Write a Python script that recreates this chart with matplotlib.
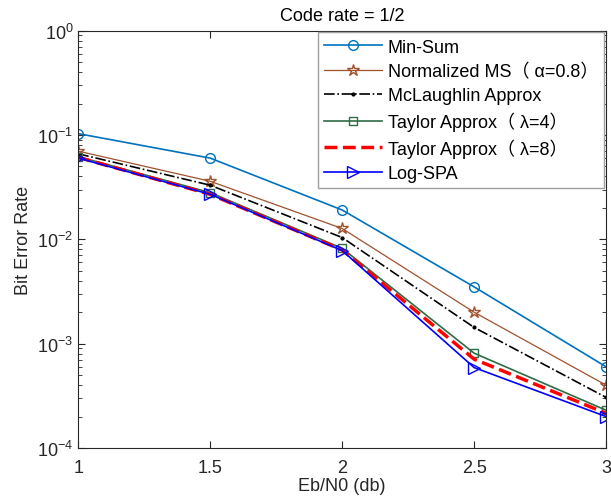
import matplotlib
matplotlib.use('Agg')
import matplotlib.pyplot as plt
from matplotlib.ticker import LogLocator, NullFormatter

plt.rcParams['font.family'] = ['Liberation Sans', 'Noto Sans CJK SC', 'DejaVu Sans']

ebn0 = [1, 1.5, 2, 2.5, 3]
min_sum = [0.103, 0.060, 0.0191, 0.0035, 0.00060]
norm_ms = [0.070, 0.036, 0.0127, 0.0020, 0.00040]
mclaughlin = [0.066, 0.033, 0.0104, 0.00143, 0.000305]
taylor4 = [0.062, 0.028, 0.0082, 0.00081, 0.00023]
taylor8 = [0.061, 0.027, 0.0079, 0.00071, 0.000215]
log_spa = [0.060, 0.027, 0.0078, 0.00059, 0.00020]

labels = ['Min-Sum', 'Normalized MS（ α=0.8）', 'McLaughlin Approx',
          'Taylor Approx（ λ=4）', 'Taylor Approx（ λ=8）', 'Log-SPA']

axc = '#262626'
fig = plt.figure(figsize=(6.11, 5.02), dpi=100)
ax = fig.add_axes([0.128, 0.1056, 0.864, 0.8314])

ax.semilogy(ebn0, min_sum, '-o', color='#0072BD', lw=1.2, ms=7, mfc='none', label=labels[0])
ax.semilogy(ebn0, norm_ms, '-*', color='#A0522D', lw=0.9, ms=9, mfc='none', label=labels[1])
ax.semilogy(ebn0, mclaughlin, '-.', marker='.', color='black', lw=1.2, ms=4, label=labels[2])
ax.semilogy(ebn0, taylor4, '-s', color='#2F6B45', lw=1.2, ms=6, mfc='none', label=labels[3])
ax.semilogy(ebn0, taylor8, '--', color='#FF0000', lw=2.5, label=labels[4])
ax.semilogy(ebn0, log_spa, '->', color='#0000FF', lw=1.2, ms=8, mfc='none', label=labels[5])

ax.set_xlim(1, 3)
ax.set_ylim(1e-4, 1)
ax.set_xticks([1, 1.5, 2, 2.5, 3])
ax.set_xticklabels(['1', '1.5', '2', '2.5', '3'])
ax.yaxis.set_major_locator(LogLocator(base=10, numticks=10))
ax.yaxis.set_minor_locator(LogLocator(base=10, subs=range(2, 10), numticks=20))
ax.yaxis.set_minor_formatter(NullFormatter())
ax.tick_params(which='both', direction='in', top=True, right=True, colors=axc, labelsize=13)
ax.tick_params(which='major', length=5)
ax.tick_params(which='minor', length=3)
ax.tick_params(axis='x', pad=8)
for s in ax.spines.values():
    s.set_color(axc)

ax.set_xlabel('Eb/N0 (db)', fontsize=13, color=axc, labelpad=1)
ax.set_ylabel('Bit Error Rate', fontsize=13, color=axc)
ax.set_title('Code rate = 1/2', fontsize=13, color='black', pad=8)

leg = ax.legend(loc='upper right', fontsize=13, fancybox=False, framealpha=1,
                edgecolor='#a0a0a0', borderaxespad=0.1, handlelength=3.2,
                handletextpad=0.3, labelspacing=0.4, borderpad=0.35)
leg.get_frame().set_linewidth(1.0)

fig.savefig('out.png', dpi=100)
